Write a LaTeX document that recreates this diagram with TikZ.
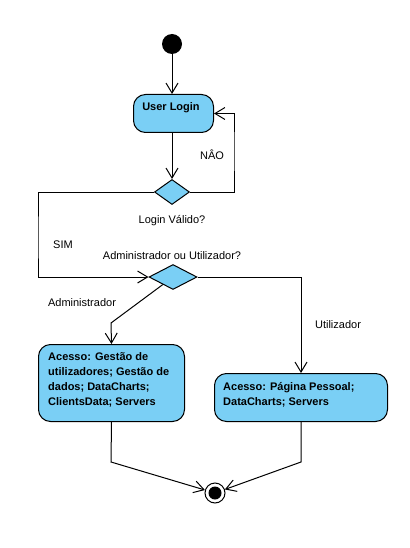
\documentclass[tikz,border=0pt]{standalone}
\usepackage{fontspec}
\setmainfont{Liberation Sans}
\usetikzlibrary{arrows.meta,shapes.geometric}
\definecolor{actfill}{RGB}{122,207,245}
\begin{document}
\begin{tikzpicture}[x=1pt,y=-1pt,
  every node/.style={inner sep=0pt,font=\fontsize{11}{15}\selectfont},
  actbox/.style={draw=black,line width=1pt,fill=actfill,rounded corners=12pt,inner sep=0pt,minimum width=#1},
  boxtext/.style={anchor=north west,align=left,font=\fontsize{11}{15}\selectfont\bfseries},
  decision/.style={diamond,draw=black,line width=1pt,fill=actfill,inner sep=0pt,minimum width=#1,minimum height=25pt},
  flow/.style={draw=black,line width=1pt,-{Straight Barb[length=10pt,width=12pt]}},
  plain/.style={draw=black,line width=1pt},
  lbl/.style={font=\fontsize{11}{13}\selectfont}]
\useasboundingbox[fill=white] (0,0) rectangle (409,548);
% nodes
\node[circle,fill=black,minimum size=20pt] (start) at (172,44) {};
\node[actbox=80pt,minimum height=38pt,anchor=north west] (login) at (133,94) {};
\node[boxtext,anchor=base] (logintxt) at (171,111) {User Login};
\node[decision=35pt] (d1) at (172,192) {};
\node[decision=48pt] (d2) at (173,277) {};
\node[actbox=146pt,minimum height=77pt,anchor=north west] (admin) at (38,344) {};
\node[boxtext] (admintxt) at (48,352) {Acesso: Gestão de\\utilizadores; Gestão de\\dados; DataCharts;\\ClientsData; Servers};
\node[actbox=173pt,minimum height=48pt,anchor=north west] (util) at (214,373) {};
\node[boxtext] (utiltxt) at (223,382) {Acesso: Página Pessoal;\\DataCharts; Servers};
\node[circle,draw=black,line width=1pt,fill=white,minimum size=20pt,
  path picture={\fill[black] (path picture bounding box.center) circle (6.5pt);}] (final) at (215,493) {};
% labels
\node[lbl] (lnao) at (212,155) {NÂO};
\node[lbl] (llogin) at (172,221) {Login Válido?};
\node[lbl] (lsim) at (63,245) {SIM};
\node[lbl] (lq) at (172,256) {Administrador ou Utilizador?};
\node[lbl] (ladmin) at (82,303) {Administrador};
\node[lbl] (lutil) at (338,325) {Utilizador};
% helper coordinates
\coordinate (nR) at (234,150);
\coordinate (nL) at (38,240);
\coordinate (abend) at (111,323);
\coordinate (abend2) at (111,462);
\coordinate (ubend) at (301,462);
% connectors
\draw[flow] (start) -- (start |- login.north);
\draw[flow] (start |- login.south) -- (d1.north);
\draw[flow] (d1.east) -| (nR) |- (login.east);
\draw[flow] (d1.west) -| (nL) |- (d2.west);
\draw[flow] (d2) -- (abend) -- (admin.north);
\draw[flow] (d2.east) -| (ubend |- util.north);
\draw[flow] (admin.south) -- (abend2) -- (final);
\draw[flow] (ubend |- util.south) -- (ubend) -- (final);
\end{tikzpicture}
\end{document}
